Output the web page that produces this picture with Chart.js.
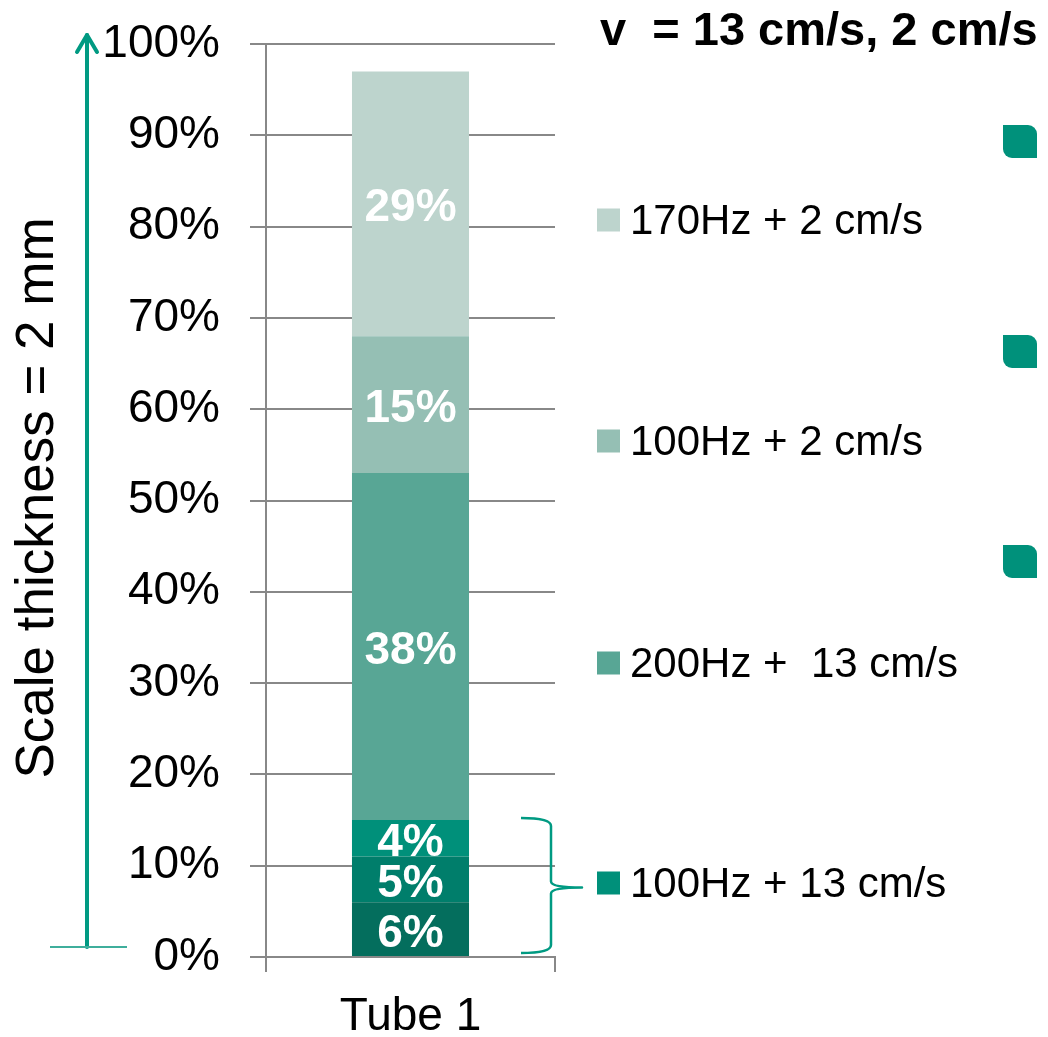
<!DOCTYPE html>
<html>
<head>
<meta charset="utf-8">
<script src="https://cdn.jsdelivr.net/npm/chart.js@4.4.1/dist/chart.umd.min.js"></script>
<style>
  html, body { margin: 0; padding: 0; background: #ffffff; }
  #wrap { width: 1048px; height: 1037px; position: relative; }
</style>
</head>
<body>
<div id="wrap"><canvas id="c" width="1048" height="1037"></canvas></div>
<script>
// ---- data ----
const categories = ['Tube 1'];
// stacked segments, bottom to top (percent of scale thickness)
const segmentValues = [6, 5, 4, 38, 15, 29];
const segmentSeries = ['100Hz + 13 cm/s', '100Hz + 13 cm/s', '100Hz + 13 cm/s',
                       '200Hz +  13 cm/s', '100Hz + 2 cm/s', '170Hz + 2 cm/s'];
// legend entries, top to bottom
const legendLabels = ['170Hz + 2 cm/s', '100Hz + 2 cm/s', '200Hz +  13 cm/s', '100Hz + 13 cm/s'];
const yTickValues = [0, 10, 20, 30, 40, 50, 60, 70, 80, 90, 100];
const titleText = 'v  = 13 cm/s, 2 cm/s';
const sideLabel = 'Scale thickness = 2 mm';

// ---- styles ----
const segmentColors = ['#046e5d', '#007e6b', '#00907a', '#58a695', '#95bfb4', '#bdd4cd'];
const legendColors = ['#bdd4cd', '#95bfb4', '#58a695', '#00907a'];
const teal = '#009a82';
const gridGray = '#888888';
const FONT = '"Liberation Sans", Arial, Helvetica, sans-serif';

const datasets = segmentValues.map((v, i) => ({
  label: segmentSeries[i],
  data: [v],
  backgroundColor: segmentColors[i],
  borderWidth: 0,
  barPercentage: 0.405,
  categoryPercentage: 1.0
}));

// white value labels centred in each segment
const segmentLabels = {
  id: 'segmentLabels',
  afterDatasetsDraw(chart) {
    const ctx = chart.ctx;
    ctx.save();
    ctx.fillStyle = '#ffffff';
    ctx.font = 'bold 46px ' + FONT;
    ctx.textAlign = 'center';
    ctx.textBaseline = 'middle';
    chart.data.datasets.forEach((ds, i) => {
      const el = chart.getDatasetMeta(i).data[0];
      const mid = (el.y + el.base) / 2;
      ctx.fillText(ds.data[0] + '%', el.x, mid + 5);
    });
    ctx.restore();
  }
};

// annotations around the plot: title, scale arrow, brace, legend, bullets
const decorations = {
  id: 'decorations',
  afterDraw(chart) {
    const ctx = chart.ctx;
    const y = chart.scales.y;
    const area = chart.chartArea;
    ctx.save();

    // title
    ctx.fillStyle = '#000000';
    ctx.font = 'bold 47px ' + FONT;
    ctx.textAlign = 'left';
    ctx.textBaseline = 'alphabetic';
    ctx.fillText(titleText, 600, 45);

    // vertical scale arrow
    ctx.strokeStyle = teal;
    ctx.lineCap = 'round';
    ctx.lineJoin = 'round';
    ctx.lineWidth = 4;
    ctx.beginPath();
    ctx.moveTo(87, 947);
    ctx.lineTo(87, 35);
    ctx.stroke();
    ctx.beginPath();
    ctx.moveTo(77, 52);
    ctx.lineTo(87, 35);
    ctx.lineTo(97, 52);
    ctx.stroke();
    ctx.lineCap = 'butt';
    ctx.lineWidth = 2;
    ctx.strokeStyle = '#3fae9c';
    ctx.beginPath();
    ctx.moveTo(50, 947);
    ctx.lineTo(127, 947);
    ctx.stroke();

    // rotated side label
    ctx.save();
    ctx.translate(53, 498);
    ctx.rotate(-Math.PI / 2);
    ctx.fillStyle = '#000000';
    ctx.font = '53px ' + FONT;
    ctx.textAlign = 'center';
    ctx.textBaseline = 'alphabetic';
    ctx.fillText(sideLabel, 0, 0);
    ctx.restore();

    // brace grouping the three 100Hz + 13 cm/s segments
    const groupTop = y.getPixelForValue(segmentValues[0] + segmentValues[1] + segmentValues[2]) - 2;
    const groupBot = y.getPixelForValue(0) - 4;
    const bx = area.right - 4;
    const midY = (groupTop + groupBot) / 2 + 2;
    ctx.strokeStyle = teal;
    ctx.lineWidth = 2.5;
    ctx.beginPath();
    ctx.moveTo(bx - 30, groupTop);
    ctx.quadraticCurveTo(bx, groupTop, bx, groupTop + 8);
    ctx.lineTo(bx, midY - 6);
    ctx.quadraticCurveTo(bx, midY, bx + 31, midY);
    ctx.quadraticCurveTo(bx, midY, bx, midY + 6);
    ctx.lineTo(bx, groupBot - 8);
    ctx.quadraticCurveTo(bx, groupBot, bx - 30, groupBot);
    ctx.stroke();

    // legend
    const legendY = [220, 441, 663, 883];
    ctx.font = '42px ' + FONT;
    ctx.textBaseline = 'middle';
    legendLabels.forEach((lbl, i) => {
      ctx.fillStyle = legendColors[i];
      ctx.fillRect(597, legendY[i] - 11.5, 23, 23);
      ctx.fillStyle = '#000000';
      ctx.fillText(lbl, 630, legendY[i] + 2);
    });

    // bullet markers at the right edge
    ctx.fillStyle = '#00917b';
    [125, 335, 545].forEach(top => {
      ctx.beginPath();
      ctx.roundRect(1003, top, 34, 33, [0, 9, 0, 9]);
      ctx.fill();
    });

    ctx.restore();
  }
};

new Chart(document.getElementById('c'), {
  type: 'bar',
  data: { labels: categories, datasets },
  plugins: [segmentLabels, decorations],
  options: {
    responsive: false,
    animation: false,
    events: [],
    layout: { padding: { left: 0, top: 44, right: 493, bottom: 0 } },
    plugins: { legend: { display: false }, tooltip: { enabled: false }, title: { display: false } },
    scales: {
      x: {
        stacked: true,
        grid: { display: true, drawOnChartArea: false, drawTicks: true, tickLength: 15, color: gridGray, lineWidth: 2, offset: true },
        border: { display: true, color: gridGray, width: 2 },
        ticks: { color: '#000000', font: { family: FONT, size: 46 }, padding: 18 },
        afterFit(scale) { scale.height = 80; }
      },
      y: {
        stacked: true,
        min: 0,
        max: 100,
        afterBuildTicks(scale) { scale.ticks = yTickValues.map(v => ({ value: v })); },
        grid: { color: gridGray, lineWidth: 2, drawTicks: true, tickLength: 16 },
        border: { display: true, color: gridGray, width: 2 },
        ticks: {
          color: '#000000',
          font: { family: FONT, size: 46 },
          padding: 30,
          callback: v => v + '%'
        },
        afterFit(scale) {
          scale.width = 266;
          scale.paddingTop = 0;
          scale.paddingBottom = 0;
        }
      }
    }
  }
});
</script>
</body>
</html>
